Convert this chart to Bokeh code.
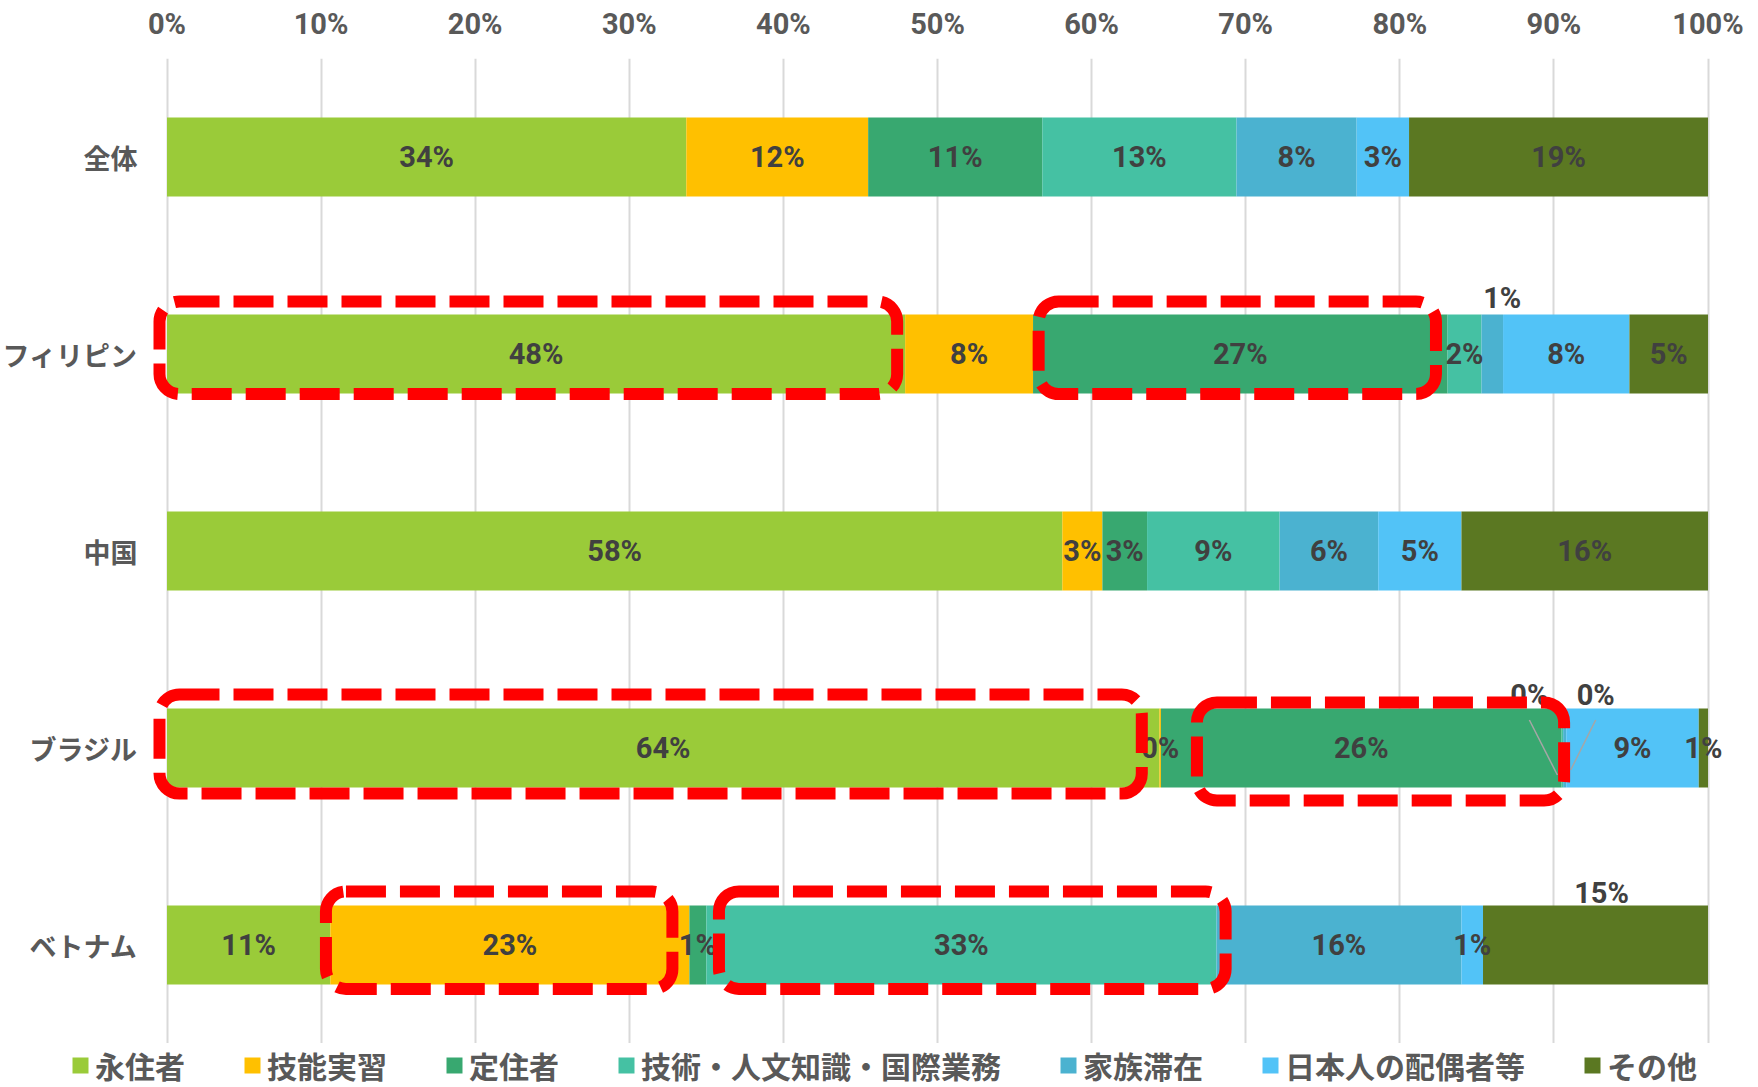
from bokeh.plotting import figure
from bokeh.layouts import column
from bokeh.models import (ColumnDataSource, FixedTicker, PrintfTickFormatter, Legend,
                          LegendItem, BoxAnnotation, Range1d)
from bokeh.embed import file_html
from bokeh.resources import INLINE
from bokeh.core.properties import value

# ---------------- data ----------------
categories = ["全体", "フィリピン", "中国", "ブラジル", "ベトナム"]
series_names = ["永住者", "技能実習", "定住者", "技術・人文知識・国際業務",
                "家族滞在", "日本人の配偶者等", "その他"]
permanent = [33.7, 47.9, 58.1, 64.4, 10.6]   # 永住者
trainee = [11.8, 8.3, 2.6, 0.1, 23.3]        # 技能実習
long_term = [11.3, 26.9, 2.9, 26.0, 1.1]     # 定住者
engineer = [12.6, 2.2, 8.6, 0.1, 33.1]       # 技術・人文知識・国際業務
dependent = [7.8, 1.4, 6.4, 0.2, 15.9]       # 家族滞在
spouse = [3.4, 8.2, 5.4, 8.6, 1.4]           # 日本人の配偶者等
other = [19.4, 5.1, 16.0, 0.6, 14.6]         # その他
x_ticks = [0, 10, 20, 30, 40, 50, 60, 70, 80, 90, 100]

series_values = [permanent, trainee, long_term, engineer, dependent, spouse, other]
colors = ["#9ACB39", "#FFC000", "#38A870", "#45C1A3", "#4BB2D0", "#52C3F7", "#5B7822"]

# ---------------- layout constants ----------------
W = 1758
H_MAIN = 1043
H_LEG = 44
ZERO_PX = 166.5              # canvas x of the 0 % line
PX_X = 15.41                 # pixels per 1 %
X_START = -ZERO_PX / PX_X
X_END = 100 + (W - ZERO_PX - 100 * PX_X) / PX_X
FRAME_T = 58
PX_Y = 197.0                 # pixels per category band
n = len(categories)
Y_TOP = n - 0.5
Y_BOTTOM = Y_TOP - (H_MAIN - FRAME_T) / PX_Y
BAR_PX = 79

JP_FONT = "Noto Sans CJK JP"
NUM_FONT = "Roboto"

ypos = [n - 1 - i for i in range(n)]
keys = ["s%d" % i for i in range(len(series_names))]
data = {"y": ypos}
for k, v in zip(keys, series_values):
    data[k] = v
src = ColumnDataSource(data)

p = figure(width=W, height=H_MAIN, x_range=Range1d(X_START, X_END), y_range=Range1d(Y_BOTTOM, Y_TOP),
           x_axis_location="above", y_axis_location=None, output_backend="svg",
           toolbar_location=None, min_border_left=0, min_border_right=0,
           min_border_top=FRAME_T, min_border_bottom=0)
p.outline_line_color = None
p.background_fill_color = "white"

renderers = p.hbar_stack(keys, y="y", height=BAR_PX / PX_Y, fill_color=colors,
                         line_color=None, source=src)

# x axis (top)
p.xaxis.ticker = FixedTicker(ticks=x_ticks)
p.xaxis.formatter = PrintfTickFormatter(format="%d%%")
p.xaxis.axis_line_color = None
p.xaxis.major_tick_line_color = None
p.xaxis.minor_tick_line_color = None
p.xaxis.major_label_text_font = NUM_FONT
p.xaxis.major_label_text_font_style = "bold"
p.xaxis.major_label_text_font_size = "29px"
p.xaxis.major_label_text_color = "#595959"
p.xaxis.major_label_standoff = 12

p.xgrid.ticker = FixedTicker(ticks=x_ticks)
p.xgrid.grid_line_color = "#d9d9d9"
p.xgrid.grid_line_width = 2
p.ygrid.grid_line_color = None

# category labels, right-aligned left of the 0 % line
p.text(x=[0] * n, y=ypos, text=categories, x_offset=-29.5, text_align="right",
       text_baseline="middle", text_font=value(JP_FONT), text_font_style="bold",
       text_font_size="27px", text_color="#595959")

# ---------------- data labels ----------------
# labels drawn outside the bar (screen px offsets from segment centre)
outside = {("フィリピン", "家族滞在"): (10, -56),
           ("ブラジル", "技術・人文知識・国際業務"): (-33, -53),
           ("ブラジル", "家族滞在"): (31, -53),
           ("ベトナム", "その他"): (6, -52)}
leaders = {("ブラジル", "技術・人文知識・国際業務"): (-33, -28, -5, 27),
           ("ブラジル", "家族滞在"): (31, -28, 6, 22)}

lx, ly, lt, ldx, ldy = [], [], [], [], []
sx0, sy0, sx1, sy1 = [], [], [], []
seg_bounds = {}
for ci, cat in enumerate(categories):
    cum = 0.0
    for si, name in enumerate(series_names):
        v = series_values[si][ci]
        start, end = cum, cum + v
        cum = end
        seg_bounds[(cat, name)] = (start, end, ypos[ci])
        cx = (start + end) / 2.0
        dx, dy = outside.get((cat, name), (0, 0))
        lx.append(cx)
        ly.append(ypos[ci])
        lt.append("%d%%" % int(round(v)))
        ldx.append(dx)
        ldy.append(dy)
        if (cat, name) in leaders:
            a, b, c, d = leaders[(cat, name)]
            sx0.append(cx + a / PX_X)
            sy0.append(ypos[ci] - b / PX_Y)
            sx1.append(cx + c / PX_X)
            sy1.append(ypos[ci] - d / PX_Y)

p.segment(x0=sx0, y0=sy0, x1=sx1, y1=sy1, line_color="#a6a6a6", line_width=1.5)
p.text(x=lx, y=ly, text=lt, x_offset=ldx, y_offset=ldy, text_align="center",
       text_baseline="middle", text_font=value(NUM_FONT), text_font_style="bold",
       text_font_size="29px", text_color="#404040")

# ---------------- highlight boxes ----------------
# (row, series, pad_left_px, pad_right_px, top_px, bottom_px)
boxes = [("フィリピン", "永住者", -7.5, -8, 52.5, 40),
         ("フィリピン", "定住者", 5.6, -11.6, 52.5, 40),
         ("ブラジル", "永住者", -7.5, -17.6, 53.5, 45.5),
         ("ブラジル", "定住者", 36, 2.5, 45.5, 52.5),
         ("ベトナム", "技能実習", -4.4, -17, 53.5, 44),
         ("ベトナム", "技術・人文知識・国際業務", 12.6, 9.2, 53.5, 44)]
for row, name, pl, pr, pt, pb in boxes:
    s, e, yc = seg_bounds[(row, name)]
    p.add_layout(BoxAnnotation(left=s + pl / PX_X, right=e + pr / PX_X,
                               top=yc + pt / PX_Y, bottom=yc - pb / PX_Y,
                               fill_alpha=0, line_color="#ff0000", line_alpha=1.0,
                               line_width=12, line_dash="40 14", border_radius=20))

# ---------------- legend (own strip below the chart) ----------------
# the strip's own bars have zero thickness and sit outside its range; only swatches show
lf = figure(width=W, height=H_LEG, x_range=Range1d(200, 300), y_range=Range1d(-0.5, n - 0.5),
            x_axis_location=None, y_axis_location=None, output_backend="svg",
            toolbar_location=None, min_border_left=0, min_border_right=0,
            min_border_top=0, min_border_bottom=0)
lf.outline_line_color = None
lf.grid.visible = False
leg_renderers = lf.hbar_stack(keys, y="y", height=0, fill_color=colors, line_color=None, source=src)
legend = Legend(items=[LegendItem(label=nm, renderers=[r]) for nm, r in zip(series_names, leg_renderers)],
                orientation="horizontal", location="center_left", glyph_width=20, glyph_height=20,
                label_standoff=5, spacing=57, padding=0, margin=70,
                border_line_color=None, background_fill_alpha=0,
                label_text_font=JP_FONT, label_text_font_style="bold",
                label_text_font_size="30px", label_text_color="#595959")
lf.add_layout(legend)

open("out.html", "w").write(file_html(column(p, lf, spacing=0), INLINE))
